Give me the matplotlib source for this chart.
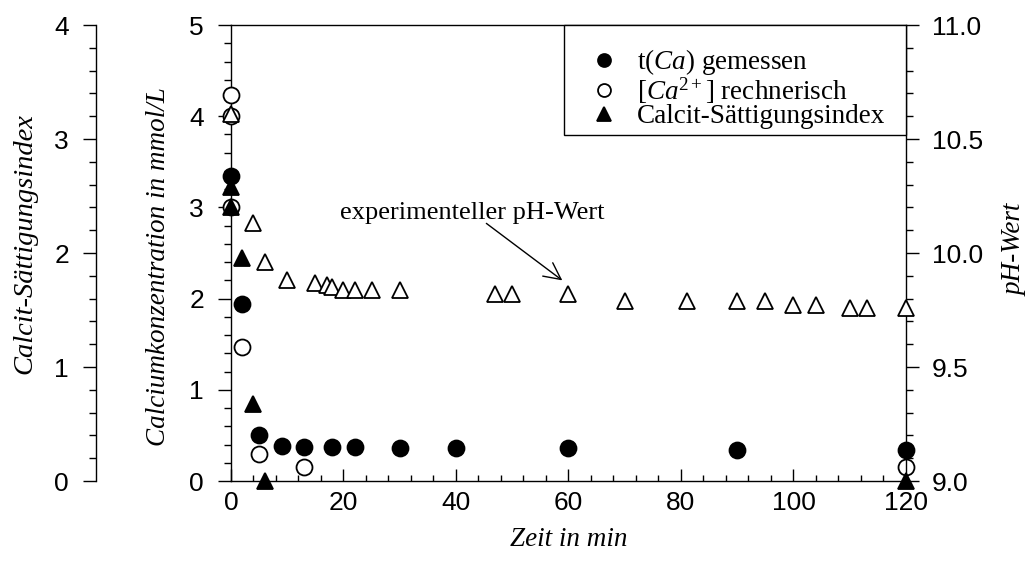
import matplotlib
matplotlib.use("Agg")
import matplotlib.pyplot as plt
from matplotlib.lines import Line2D
from matplotlib.patches import Rectangle
from matplotlib.ticker import MultipleLocator, FormatStrFormatter

plt.rcParams['font.family'] = ['Liberation Sans', 'DejaVu Sans']
plt.rcParams['mathtext.fontset'] = 'custom'
plt.rcParams['mathtext.rm'] = 'Liberation Serif'
plt.rcParams['mathtext.it'] = 'Liberation Serif:italic'
plt.rcParams['mathtext.bf'] = 'Liberation Serif:bold'

# Gesamtcalcium, gemessen (mmol/L)
t_ca_meas = [0, 2, 5, 9, 13, 18, 22, 30, 40, 60, 90, 120]
ca_meas = [3.34, 1.94, 0.51, 0.38, 0.37, 0.37, 0.37, 0.36, 0.36, 0.36, 0.34, 0.34]

# freies Ca2+, berechnet (mmol/L)
t_ca_calc = [0, 0, 0, 2, 5, 13, 120]
ca_calc = [4.23, 4.00, 3.00, 1.47, 0.30, 0.15, 0.15]

# Calcit-Sättigungsindex
t_si = [0, 0, 2, 4, 6, 120]
si = [2.58, 2.40, 1.96, 0.68, 0.0, 0.0]

# gemessener pH-Wert
t_ph = [0, 4, 6, 10, 15, 17, 18, 20, 22, 25, 30, 47, 50, 60, 70, 81, 90, 95,
        100, 104, 110, 113, 120]
ph = [10.61, 10.13, 9.96, 9.88, 9.87, 9.86, 9.85, 9.84, 9.84, 9.84, 9.84, 9.82,
      9.82, 9.82, 9.79, 9.79, 9.79, 9.79, 9.77, 9.77, 9.76, 9.76, 9.76]

x_ticks = [0, 20, 40, 60, 80, 100, 120]
ca_ticks = [0, 1, 2, 3, 4, 5]
si_ticks = [0, 1, 2, 3, 4]
ph_ticks = [9.0, 9.5, 10.0, 10.5, 11.0]

serif_it = dict(family='Liberation Serif', style='italic', size=19.5)
serif = dict(family='Liberation Serif', size=19.5)
TICKSIZE = 19

fig = plt.figure(figsize=(10.34, 5.70), dpi=100)
fig.subplots_adjust(left=0.2234, right=0.8762, bottom=0.1561, top=0.9561)
ax = fig.add_subplot(111)
ax_ph = ax.twinx()
ax_si = ax.twinx()

lw = 1.0
for a in (ax, ax_ph, ax_si):
    for s in a.spines.values():
        s.set_linewidth(lw)

# main axis: calcium
ax.set_xlim(0, 120)
ax.set_ylim(0, 5)
ax.set_xticks(x_ticks)
ax.set_yticks(ca_ticks)
ax.xaxis.set_minor_locator(MultipleLocator(4))
ax.yaxis.set_minor_locator(MultipleLocator(0.2))
ax.spines['right'].set_visible(False)
ax.tick_params(axis='x', which='both', direction='in', top=False, width=lw,
               labelsize=TICKSIZE, pad=7)
ax.tick_params(axis='x', which='major', length=9)
ax.tick_params(axis='x', which='minor', length=4.5)
ax.tick_params(axis='y', which='both', direction='out', right=False, width=lw,
               labelsize=TICKSIZE, pad=10)
ax.tick_params(axis='y', which='major', length=9.5)
ax.tick_params(axis='y', which='minor', length=5)

# right axis: pH
ax_ph.set_ylim(9.0, 11.0)
ax_ph.set_yticks(ph_ticks)
ax_ph.yaxis.set_major_formatter(FormatStrFormatter('%.1f'))
ax_ph.yaxis.set_minor_locator(MultipleLocator(0.1))
for side in ('left', 'top', 'bottom'):
    ax_ph.spines[side].set_visible(False)
ax_ph.tick_params(axis='y', which='both', direction='out', width=lw,
                  labelsize=TICKSIZE, pad=9)
ax_ph.tick_params(axis='y', which='major', length=9.5)
ax_ph.tick_params(axis='y', which='minor', length=5)

# far left axis: saturation index
ax_si.set_ylim(0, 4)
ax_si.set_yticks(si_ticks)
ax_si.yaxis.set_minor_locator(MultipleLocator(0.2))
ax_si.spines['left'].set_position(('axes', -0.2))
ax_si.spines['left'].set_visible(True)
for side in ('right', 'top', 'bottom'):
    ax_si.spines[side].set_visible(False)
ax_si.yaxis.set_ticks_position('left')
ax_si.yaxis.set_label_position('left')
ax_si.tick_params(axis='y', which='both', direction='out', width=lw,
                  labelsize=TICKSIZE, pad=10)
ax_si.tick_params(axis='y', which='major', length=9.5)
ax_si.tick_params(axis='y', which='minor', length=5)

# data
ms_c = 11.5
ms_t = 12
mew = 1.3
ax.plot(t_ca_calc, ca_calc, ls='none', marker='o', ms=ms_c, mfc='white',
        mec='black', mew=mew, clip_on=False, zorder=3)
ax.plot(t_ca_meas, ca_meas, ls='none', marker='o', ms=ms_c, mfc='black',
        mec='black', mew=mew, clip_on=False, zorder=4)
ax_ph.plot(t_ph, ph, ls='none', marker='^', ms=ms_t, mfc='white',
           mec='black', mew=mew, clip_on=False, zorder=3)
ax_si.plot(t_si, si, ls='none', marker='^', ms=ms_t, mfc='black',
           mec='black', mew=mew, clip_on=False, zorder=3)

# annotation
ax_ph.text(19.3, 10.15, 'experimenteller pH-Wert', ha='left', va='baseline',
           fontdict=dict(family='Liberation Serif', size=19))
ax_ph.annotate('', xy=(58.9, 9.88), xytext=(45.4, 10.13),
               arrowprops=dict(arrowstyle='->,head_length=0.6,head_width=0.3',
                               mutation_scale=20, lw=1.0, color='black',
                               shrinkA=0, shrinkB=0))

# axis labels
ax.set_xlabel('Zeit in min', fontdict=serif_it, va='center')
ax.xaxis.set_label_coords(0.5, -0.129)
ax.set_ylabel('Calciumkonzentration in mmol/L', fontdict=serif_it, va='center')
ax.yaxis.set_label_coords(-0.108, 0.471)
ax_si.set_ylabel('Calcit-Sättigungsindex',
                 fontdict=dict(serif_it, size=20.5), va='center')
ax_si.yaxis.set_label_coords(-0.305, 0.52)
ax_ph.set_ylabel('pH-Wert', fontdict=serif_it, va='center', rotation=90)
ax_ph.yaxis.set_label_coords(1.161, 0.507)

# legend box anchored to the upper right corner of the plot
ax_si.add_patch(Rectangle((0.4933, 0.7588), 1 - 0.4933, 1 - 0.7588,
                          transform=ax_si.transAxes, facecolor='white',
                          edgecolor='black', lw=lw, zorder=4.5, clip_on=False))
handles = [
    Line2D([], [], ls='none', marker='o', ms=9.3, mfc='black', mec='black', mew=mew),
    Line2D([], [], ls='none', marker='o', ms=9.3, mfc='white', mec='black', mew=mew),
    Line2D([], [], ls='none', marker='^', ms=10, mfc='black', mec='black', mew=mew),
]
labels = [r't($\mathit{Ca}$) gemessen',
          r'[$\mathit{Ca}^{\mathrm{2+}}$] rechnerisch',
          'Calcit-Sättigungsindex']
leg = ax_si.legend(handles, labels, loc='upper right',
                   bbox_to_anchor=(0.9689, 0.9518), borderaxespad=0,
                   prop=dict(family='Liberation Serif', size=19.5),
                   frameon=False, borderpad=0, handlelength=1.0,
                   handletextpad=0.69, labelspacing=-0.06)
leg.set_zorder(6)

fig.savefig('out.png', dpi=100)
